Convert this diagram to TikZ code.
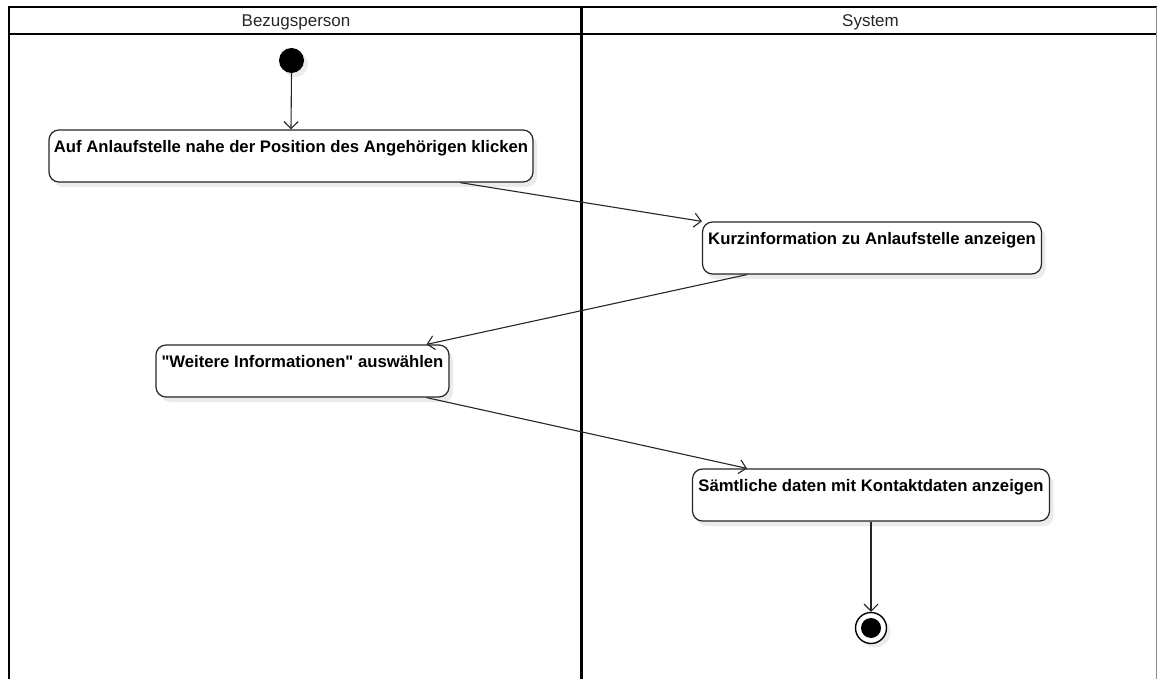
\documentclass[tikz,border=0pt]{standalone}
\usepackage{fontspec}
\setmainfont{Liberation Sans}[Ligatures=TeXOff]
\usetikzlibrary{arrows.meta,shadows,calc}

\tikzset{
  lane/.style={line width=2.4pt, black},
  action/.style={draw=black!85, line width=1.2pt, fill=white, rounded corners=10pt,
    minimum height=52pt, inner xsep=3pt, inner ysep=2pt,
    font=\fontsize{16.7}{19}\selectfont\bfseries, text height=12pt, text depth=19.4pt,
    drop shadow={shadow xshift=4pt, shadow yshift=-5pt, fill=black, opacity=0.08}},
  flow/.style={draw=black!85, line width=1.1pt, -{Straight Barb[length=7pt,width=14pt,line width=1.1pt]}},
  lanetitle/.style={font=\fontsize{17}{20}\selectfont, text=black!85},
}

\begin{document}
\begin{tikzpicture}[x=1pt,y=-1pt]
  \useasboundingbox (0,0) rectangle (1157,679);

  % swimlane frame
  \draw[lane] (9,679) -- (9,7) -- (1158,7);
  \draw[lane] (9,34) -- (1158,34);
  \draw[lane] (581.5,7) -- (581.5,679);
  \draw[line width=1pt, black!45] (1156.5,7) -- (1156.5,679);

  \node[lanetitle] (laneA) at (296,22) {Bezugsperson};
  \node[lanetitle] (laneB) at (870.5,22) {System};

  % initial and final states
  \node[circle, fill=black, minimum size=25pt, inner sep=0pt,
        drop shadow={shadow xshift=4pt, shadow yshift=-4pt, fill=black, opacity=0.08}]
        (start) at (291.5,60.5) {};
  \node[circle, draw=black, line width=1.4pt, fill=white, minimum size=31pt, inner sep=0pt,
        drop shadow={shadow xshift=4pt, shadow yshift=-4pt, fill=black, opacity=0.08}]
        (stop) at (871,628) {};
  \node[circle, fill=black, minimum size=20pt, inner sep=0pt] (stopdot) at (stop.center) {};

  % actions
  \node[action, minimum width=484pt] (a1) at (291,156)
    {Auf Anlaufstelle nahe der Position des Angehörigen klicken};
  \node[action, minimum width=339pt] (a2) at (872,248)
    {Kurzinformation zu Anlaufstelle anzeigen};
  \node[action, minimum width=293pt] (a3) at (302.5,371)
    {"Weitere Informationen" auswählen};
  \node[action, minimum width=357pt] (a4) at (871,495)
    {Sämtliche daten mit Kontaktdaten anzeigen};

  % control flow
  \draw[flow] (start.south) -- (a1.north);
  \draw[flow] ([xshift=169pt]a1.south) -- (a2.north west);
  \draw[flow] ([xshift=-125pt]a2.south) -- ([xshift=124pt]a3.north);
  \draw[flow] ([xshift=124pt]a3.south) -- ([xshift=-124pt]a4.north);
  \draw[flow] (a4.south) -- (stop.north);
\end{tikzpicture}
\end{document}
